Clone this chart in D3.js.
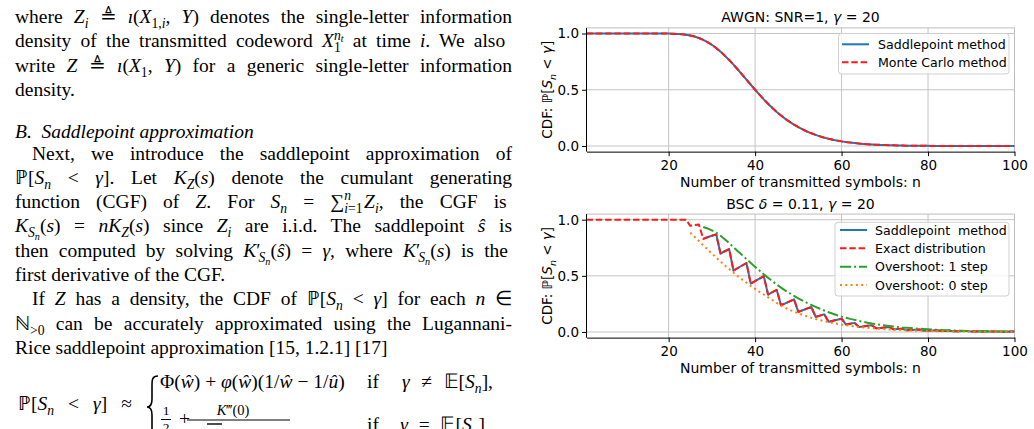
<!DOCTYPE html>
<html lang="en">
<head>
<meta charset="utf-8" />
<title>Saddlepoint CDF</title>
<script src="https://cdn.jsdelivr.net/npm/d3@7"></script>
<style>
  html, body { margin: 0; background: #fff; }
  svg { display: block; }
  text { white-space: pre; }
</style>
</head>
<body>
<script>
// ---- chart data ----
const nValues = d3.range(1, 101);            // n = 1..100
const xTicks = [20, 40, 60, 80, 100];
const yTicks = [0, 0.5, 1];

// AWGN, SNR = 1, gamma = 20
const awgnSaddle = [
  1, 1, 1, 1, 1, 1, 1, 1, 1, 1, 1, 1, 1, 1, 1, 1,                         // 1-16
  1.0, 0.9999, 0.9996, 0.9991, 0.9982, 0.9964, 0.9935, 0.9889, 0.9821, 0.9727, // 17-26
  0.9601, 0.9438, 0.9236, 0.8994, 0.8711, 0.8389, 0.8032, 0.7643, 0.7230, 0.6797, // 27-36
  0.6351, 0.5899, 0.5446, 0.5, 0.4565, 0.4148, 0.3752, 0.3378, 0.3029, 0.2706, // 37-46
  0.2409, 0.2139, 0.1893, 0.1671, 0.1470, 0.1290, 0.1129, 0.0985, 0.0857, 0.0743, // 47-56
  0.0643, 0.0555, 0.0478, 0.0411, 0.0352, 0.0301, 0.0257, 0.0219, 0.0186, 0.0158, // 57-66
  0.0134, 0.0113, 0.0095, 0.0080, 0.0067, 0.0056, 0.0047, 0.0039, 0.0033, 0.0027, // 67-76
  0.0023, 0.0019, 0.0016, 0.0013, 0.0011, 0.0009, 0.0007, 0.0006, 0.0005, 0.0004, // 77-86
  0.0003, 0.0003, 0.0002, 0.0002, 0.0001, 0.0001, 0.0001, 0.0001, 0.0001, 0.0001, // 87-96
  0.0001, 0.0001, 0.0001, 0.0001                                           // 97-100
];
const awgnMonteCarlo = [
  1, 1, 1, 1, 1, 1, 1, 1, 1, 1, 1, 1, 1, 1, 1, 1,
  1.000, 1.000, 1.000, 0.999, 0.998, 0.996, 0.994, 0.989, 0.982, 0.973,
  0.960, 0.944, 0.924, 0.899, 0.871, 0.839, 0.803, 0.764, 0.723, 0.680,
  0.635, 0.590, 0.545, 0.500, 0.457, 0.415, 0.375, 0.338, 0.303, 0.271,
  0.241, 0.214, 0.189, 0.167, 0.147, 0.129, 0.113, 0.099, 0.086, 0.074,
  0.064, 0.056, 0.048, 0.041, 0.035, 0.030, 0.026, 0.022, 0.019, 0.016,
  0.013, 0.011, 0.010, 0.008, 0.007, 0.006, 0.005, 0.004, 0.003, 0.003,
  0.002, 0.002, 0.002, 0.001, 0.001, 0.001, 0.001, 0.001, 0.000, 0.000,
  0.000, 0.000, 0.000, 0.000, 0.000, 0.000, 0.000, 0.000, 0.000, 0.000,
  0.000, 0.000, 0.000, 0.000
];

// BSC, delta = 0.11, gamma = 20
const bscExact = [
  1, 1, 1, 1, 1, 1, 1, 1, 1, 1, 1, 1, 1, 1, 1, 1, 1, 1, 1, 1, 1, 1, 1, 1, // 1-24
  0.9457, 0.9517, 0.9570, 0.8293, 0.8438, 0.8573, 0.8696, 0.6990, 0.7191, 0.7380, // 25-34
  0.5467, 0.5698, 0.5921, 0.6137, 0.4308, 0.4532, 0.4754, 0.4973, 0.3337, 0.3541, // 35-44
  0.3745, 0.2381, 0.2554, 0.2730, 0.2909, 0.1793, 0.1936, 0.2083, 0.2234, 0.1342, // 45-54
  0.1457, 0.1577, 0.0912, 0.0999, 0.1091, 0.1187, 0.0674, 0.0741, 0.0813, 0.0447, // 55-64
  0.0496, 0.0548, 0.0603, 0.0328, 0.0365, 0.0404, 0.0447, 0.0240, 0.0268, 0.0298, // 65-74
  0.0156, 0.0175, 0.0196, 0.0219, 0.0114, 0.0128, 0.0143, 0.0161, 0.0085, 0.0095, // 75-84
  0.0105, 0.0063, 0.0070, 0.0078, 0.0087, 0.0048, 0.0054, 0.0060, 0.0036, 0.0040, // 85-94
  0.0045, 0.0050, 0.0027, 0.0030, 0.0034, 0.0037                           // 95-100
];
const bscSaddleStart = 28;
const bscSaddle = [
  0.8293, 0.8438, 0.8573, 0.8696, 0.6990, 0.7191, 0.7380,                  // 28-34
  0.5467, 0.5698, 0.5921, 0.6137, 0.4308, 0.4532, 0.4754, 0.4973, 0.3337, 0.3541, // 35-44
  0.3745, 0.2381, 0.2554, 0.2730, 0.2909, 0.1793, 0.1936, 0.2083, 0.2234, 0.1342, // 45-54
  0.1457, 0.1577, 0.0912, 0.0999, 0.1091, 0.1187, 0.0674, 0.0741, 0.0813, 0.0447, // 55-64
  0.0496, 0.0548, 0.0603, 0.0328, 0.0365, 0.0404, 0.0447, 0.0240, 0.0268, 0.0298, // 65-74
  0.0156, 0.0175, 0.0196, 0.0219, 0.0114, 0.0128, 0.0143, 0.0161, 0.0085, 0.0095, // 75-84
  0.0105, 0.0063, 0.0070, 0.0078, 0.0087, 0.0048, 0.0054, 0.0060, 0.0036, 0.0040, // 85-94
  0.0045, 0.0050, 0.0027, 0.0030, 0.0034, 0.0037                           // 95-100
];
const bscOver1Start = 28;
const bscOvershoot1 = [
  0.935, 0.922, 0.905, 0.885, 0.858, 0.826, 0.791, 0.755, 0.720, 0.685,   // 28-37
  0.650, 0.615, 0.580, 0.547, 0.514, 0.483, 0.452, 0.422, 0.395, 0.369,   // 38-47
  0.345, 0.322, 0.300, 0.280, 0.260, 0.242, 0.224, 0.207, 0.191, 0.176,   // 48-57
  0.162, 0.149, 0.137, 0.127, 0.117, 0.108, 0.099, 0.091, 0.083, 0.076,   // 58-67
  0.070, 0.064, 0.059, 0.054, 0.049, 0.045, 0.041, 0.038, 0.035, 0.032,   // 68-77
  0.029, 0.027, 0.025, 0.022, 0.020, 0.018, 0.016, 0.015, 0.013, 0.012,   // 78-87
  0.011, 0.010, 0.009, 0.008, 0.0075, 0.007, 0.006, 0.0055, 0.005, 0.0045, // 88-97
  0.004, 0.0037, 0.0033                                                   // 98-100
];
const bscOver0Start = 25;
const bscOvershoot0 = [
  0.885, 0.848, 0.810, 0.772, 0.735, 0.698, 0.662, 0.627, 0.593, 0.560,   // 25-34
  0.528, 0.497, 0.467, 0.438, 0.410, 0.384, 0.358, 0.334, 0.309, 0.284,   // 35-44
  0.259, 0.235, 0.215, 0.197, 0.181, 0.166, 0.152, 0.139, 0.127, 0.116,   // 45-54
  0.106, 0.097, 0.088, 0.080, 0.073, 0.066, 0.060, 0.055, 0.050, 0.045,   // 55-64
  0.041, 0.037, 0.034, 0.031, 0.028, 0.025, 0.023, 0.021, 0.019, 0.017,   // 65-74
  0.015, 0.014, 0.012, 0.011, 0.010, 0.009, 0.008, 0.0075, 0.007, 0.006, // 75-84
  0.0055, 0.005, 0.0045, 0.004, 0.0036, 0.0033, 0.003, 0.0027, 0.0024, 0.0022, // 85-94
  0.002, 0.0018, 0.0016, 0.0015, 0.0013, 0.0012                          // 95-100
];

const W = 1034, H = 429;
const svg = d3.select("body").append("svg").attr("width", W).attr("height", H)
  .attr("viewBox", [0, 0, W, H]);

// ---------- rich text helper (italic / sub / sup tspans) ----------
// a segment is "text" or [text, flags, dx]; flags: i=italic b=sub p=sup s=second level
function richText(parent, x, y, segs, o) {
  const t = parent.append("text").attr("x", x).attr("y", y)
    .attr("font-family", o.family).attr("font-size", o.size).attr("fill", o.fill || "#000");
  if (o.anchor) t.attr("text-anchor", o.anchor);
  let off = 0;
  segs.forEach(s => {
    const [str, f = "", dx = 0] = typeof s === "string" ? [s] : s;
    let target = 0, size = o.size;
    if (f.includes("b")) { target = o.size * 0.26; size = o.size * 0.7; }
    if (f.includes("p")) { target = -o.size * 0.4; size = o.size * 0.7; }
    if (f.includes("s")) { target += o.size * 0.14; size = o.size * 0.52; }
    const ts = t.append("tspan").text(str).attr("font-size", size).attr("dy", target - off);
    if (dx) ts.attr("dx", dx);
    if (f.includes("i")) ts.attr("font-style", "italic");
    off = target;
  });
  if (o.width) {
    const w = t.node().getComputedTextLength();
    const gaps = segs.reduce((a, s) => a + ((typeof s === "string" ? s : s[0]).match(/ /g) || []).length, 0);
    if (gaps) t.attr("word-spacing", (o.width - w) / gaps);
  }
  return t;
}

// ---------- left column: paper text ----------
const paper = svg.append("g");
const serif = { family: "Liberation Serif, Times New Roman, serif", size: 19.5 };
const colL = 15, colR = 512, indent = 32;
const lines = [
  { y: 23, x: colL, j: true, s: ["where ", ["Z", "i"], ["i", "ib"], " ≜ ", ["ı", "i"], "(", ["X", "i"], ["1,", "b"], ["i", "ib"], ", ", ["Y", "i"], ")", " denotes the single-letter information"] },
  { y: 47.3, x: colL, j: true, s: ["density of the transmitted codeword ", ["X", "i"], ["1", "b"], ["n", "ip", -6.8], ["t", "ips"], " at time ", ["i", "i"], ". We also"] },
  { y: 71.6, x: colL, j: true, s: ["write ", ["Z", "i"], " ≜ ", ["ı", "i"], "(", ["X", "i"], ["1", "b"], ", ", ["Y", "i"], ")", " for a generic single-letter information"] },
  { y: 96, x: colL, j: false, s: ["density."] },
  { y: 159.5, x: indent, j: true, s: ["Next, we introduce the saddlepoint approximation of"] },
  { y: 183.8, x: colL, j: true, s: ["ℙ[", ["S", "i"], ["n", "ib"], " < ", ["γ", "i"], "]. Let ", ["K", "i"], ["Z", "ib"], "(", ["s", "i"], ")", " denote the cumulant generating"] },
  { y: 208.1, x: colL, j: true, s: ["function (CGF) of ", ["Z", "i"], ". For ", ["S", "i"], ["n", "ib"], " = ", "∑", ["n", "ip"], ["i", "ib", -6.8], ["=1", "b"], ["Z", "i", 1.5], ["i", "ib"], ", the CGF is"] },
  { y: 232.4, x: colL, j: true, s: [["K", "i"], ["S", "ib"], ["n", "ibs"], "(", ["s", "i"], ") = ", ["n", "i"], ["K", "i"], ["Z", "ib"], "(", ["s", "i"], ")", " since ", ["Z", "i"], ["i", "ib"], " are i.i.d. The saddlepoint ", ["ŝ", "i"], " is"] },
  { y: 256.7, x: colL, j: true, s: ["then computed by solving ", ["K", "i"], "′", ["S", "ib", -2], ["n", "ibs"], "(", ["ŝ", "i"], ") = ", ["γ", "i"], ", where ", ["K", "i"], "′", ["S", "ib", -2], ["n", "ibs"], "(", ["s", "i"], ")", " is the"] },
  { y: 281, x: colL, j: false, s: ["first derivative of the CGF."] },
  { y: 305.3, x: indent, j: true, s: ["If ", ["Z", "i"], " has a density, the CDF of ", "ℙ[", ["S", "i"], ["n", "ib"], " < ", ["γ", "i"], "]", " for each ", ["n", "i"], " ∈"] },
  { y: 329.6, x: colL, j: true, s: ["ℕ", [">0", "b"], " can be accurately approximated using the Lugannani-"] },
  { y: 354, x: colL, j: false, s: ["Rice saddlepoint approximation [15, 1.2.1] [17]"] }
];
lines.forEach(l => richText(paper, l.x, l.y, l.s, { ...serif, width: l.j ? colR - l.x : 0 }));
paper.append("text").attr("x", colL).attr("y", 138)
  .attr("font-family", serif.family).attr("font-size", serif.size).attr("font-style", "italic")
  .text("B.  Saddlepoint approximation");

// displayed formula (partly cut by the bottom edge)
richText(paper, 18, 410, ["ℙ[", ["S", "i"], ["n", "ib"], " < ", ["γ", "i"], "] ≈"], { ...serif, width: 114 });
paper.append("path").attr("fill", "none").attr("stroke", "#000").attr("stroke-width", 1.6)
  .attr("d", "M158,376 C152,376 152,380 152,386 L152,399 C152,404 151,407 147,407 C151,407 152,410 152,415 L152,428 C152,434 152,438 158,438");
richText(paper, 160, 388, ["Φ(", ["ŵ", "i"], ") + ", ["φ", "i"], "(", ["ŵ", "i"], ")(1/", ["ŵ", "i"], " − 1/", ["û", "i"], ")"], serif);
richText(paper, 367, 388, ["if  ", ["γ", "i"], " ≠ 𝔼[", ["S", "i"], ["n", "ib"], "],"], { ...serif, width: 126 });
richText(paper, 166, 415, ["1"], { ...serif, size: 13.5, anchor: "middle" });
paper.append("line").attr("x1", 161).attr("x2", 171).attr("y1", 419.5).attr("y2", 419.5).attr("stroke", "#000");
richText(paper, 166, 432, ["2"], { ...serif, size: 13.5, anchor: "middle" });
richText(paper, 174, 425, [" + "], serif);
richText(paper, 233, 415, [["K", "i"], "‴(0)"], { ...serif, size: 14.5, anchor: "middle" });
paper.append("line").attr("x1", 187).attr("x2", 290).attr("y1", 420).attr("y2", 420).attr("stroke", "#000");
paper.append("line").attr("x1", 207).attr("x2", 222).attr("y1", 424).attr("y2", 424).attr("stroke", "#000").attr("stroke-width", 1.4);
richText(paper, 367, 431, ["if  ", ["γ", "i"], " = 𝔼[", ["S", "i"], ["n", "ib"], "]"], { ...serif, width: 118 });

// ---------- right column: two charts ----------
const sans = "DejaVu Sans, Verdana, sans-serif";
const x = d3.scaleLinear().domain([1, 100]).range([586.5, 1014.5]);

function drawChart(c) {
  const y = d3.scaleLinear().domain([0, 1]).range([c.y0, c.y1]);
  const top = y(1.05), bot = y(-0.05);
  const g = svg.append("g");
  const clipId = "clip-" + c.id;
  g.append("clipPath").attr("id", clipId).append("rect")
    .attr("x", x.range()[0]).attr("y", top).attr("width", x.range()[1] - x.range()[0]).attr("height", bot - top);

  // grid
  g.append("g").selectAll("line").data(xTicks).join("line")
    .attr("x1", d => x(d)).attr("x2", d => x(d)).attr("y1", top).attr("y2", bot)
    .attr("stroke", "#c4c4c4").attr("stroke-width", 1);
  g.append("g").selectAll("line").data(yTicks).join("line")
    .attr("x1", x.range()[0]).attr("x2", x.range()[1]).attr("y1", d => y(d)).attr("y2", d => y(d))
    .attr("stroke", "#c4c4c4").attr("stroke-width", 1);
  // top / right frame in light grey
  g.append("path").attr("fill", "none").attr("stroke", "#bdbdbd").attr("stroke-width", 1)
    .attr("d", `M${x.range()[0]},${top}H${x.range()[1]}V${bot}`);

  // series
  const lineGen = d3.line().defined(d => d[1] != null).x(d => x(d[0])).y(d => y(d[1]));
  const plot = g.append("g").attr("clip-path", `url(#${clipId})`);
  c.series.forEach(s => {
    const pts = s.values.map((v, i) => [s.start + i, v]);
    plot.append("path").datum(pts).attr("d", lineGen)
      .attr("fill", "none").attr("stroke", s.color).attr("stroke-width", 2)
      .attr("stroke-dasharray", s.dash || null).attr("stroke-linejoin", "round");
  });

  // axes
  const ax = g.append("g").attr("transform", `translate(0,${bot})`)
    .call(d3.axisBottom(x).tickValues(xTicks).tickSize(4.5).tickPadding(4.5).tickSizeOuter(0));
  const ay = g.append("g").attr("transform", `translate(${x.range()[0]},0)`)
    .call(d3.axisLeft(y).tickValues(yTicks).tickFormat(d3.format(".1f")).tickSize(4.5).tickPadding(3).tickSizeOuter(0));
  ay.select(".domain").attr("d", `M0,${top}V${bot}`);
  [ax, ay].forEach(a => {
    a.attr("font-family", sans).attr("font-size", 13.5);
    a.selectAll("text").attr("fill", "#000");
    a.selectAll("line, .domain").attr("stroke", "#000").attr("stroke-width", 1);
  });

  // title & labels
  richText(g, 800.5, c.titleY, c.title, { family: sans, size: 14, anchor: "middle" });
  richText(g, 800.5, c.xlabY, ["Number of transmitted symbols: n"], { family: sans, size: 14, anchor: "middle" });
  const yl = g.append("g").attr("transform", `translate(552,${(top + bot) / 2}) rotate(-90)`);
  richText(yl, 0, 0, ["CDF: ", "ℙ[", ["S", "i"], ["n", "ib"], " < ", ["γ", "i"], "]"], { family: sans, size: 13.5, anchor: "middle" });

  // legend
  const L = c.legend;
  g.append("rect").attr("x", L.x0).attr("y", L.y0).attr("width", L.x1 - L.x0).attr("height", L.y1 - L.y0)
    .attr("rx", 3).attr("fill", "#fff").attr("fill-opacity", 0.8).attr("stroke", "#d0d0d0").attr("stroke-width", 1);
  c.series.filter(s => s.label).forEach((s, i) => {
    const ry = L.rows[i];
    g.append("line").attr("x1", L.hx).attr("x2", L.hx + 27).attr("y1", ry).attr("y2", ry)
      .attr("stroke", s.color).attr("stroke-width", 2).attr("stroke-dasharray", s.dash || null);
    g.append("text").attr("x", L.tx).attr("y", ry).attr("dy", "0.36em")
      .attr("font-family", sans).attr("font-size", 12.6).attr("fill", "#000").text(s.label);
  });
}

drawChart({
  id: "awgn", y0: 146, y1: 33.5, titleY: 22, xlabY: 186.5,
  title: ["AWGN: SNR=1, ", ["γ", "i"], " = 20"],
  series: [
    { values: awgnSaddle, start: 1, color: "#1f77b4", label: "Saddlepoint method" },
    { values: awgnMonteCarlo, start: 1, color: "#ff1a1a", dash: "6.5,2.8", label: "Monte Carlo method" }
  ],
  legend: { x0: 838.5, x1: 1009, y0: 33.5, y1: 74, hx: 842, tx: 878, rows: [44.3, 62.3] }
});

drawChart({
  id: "bsc", y0: 332, y1: 219.7, titleY: 209, xlabY: 372.5,
  title: ["BSC ", ["δ", "i"], " = 0.11, ", ["γ", "i"], " = 20"],
  series: [
    { values: bscSaddle, start: bscSaddleStart, color: "#1f77b4", label: "Saddlepoint  method" },
    { values: bscExact, start: 1, color: "#ff1a1a", dash: "6.5,2.8", label: "Exact distribution" },
    { values: bscOvershoot1, start: bscOver1Start, color: "#2ca02c", dash: "11,3,2,3", label: "Overshoot: 1 step" },
    { values: bscOvershoot0, start: bscOver0Start, color: "#ff7f0e", dash: "2,3.3", label: "Overshoot: 0 step" }
  ],
  legend: { x0: 835, x1: 1009, y0: 222.3, y1: 296, hx: 840, tx: 875, rows: [230, 248.3, 266.7, 285] }
});
</script>
</body>
</html>
